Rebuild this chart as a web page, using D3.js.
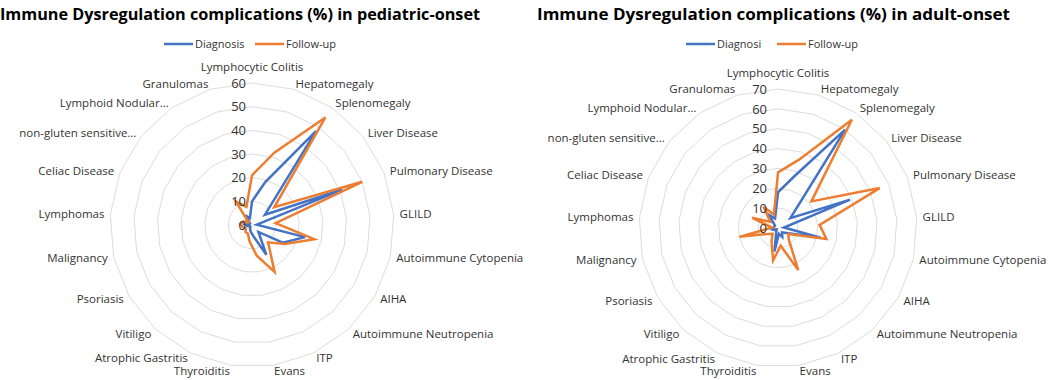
<!DOCTYPE html>
<html>
<head>
<meta charset="utf-8">
<script src="https://cdn.jsdelivr.net/npm/d3@7"></script>
<style>
  body { margin: 0; background: #fff; }
  svg { font-family: "Open Sans", sans-serif; }
</style>
</head>
<body>
<svg width="1053" height="380"></svg>
<script>
// categories clockwise from the top
const categories = ["Lymphocytic Colitis", "Hepatomegaly", "Splenomegaly", "Liver Disease",
  "Pulmonary Disease", "GLILD", "Autoimmune Cytopenia", "AIHA", "Autoimmune Neutropenia",
  "ITP", "Evans", "Thyroiditis", "Atrophic Gastritis", "Vitiligo", "Psoriasis", "Malignancy",
  "Lymphomas", "Celiac Disease", "non-gluten sensitive\u2026", "Lymphoid Nodular\u2026", "Granulomas"];

const pedDiagnosis = [10, 19, 48, 7, 41, 2, 23, 15, 4, 14, 5, 3, 2, 1, 1, 2, 3, 1, 1, 5, 3];
const pedFollowUp = [21, 32, 55, 12, 50, 10, 27, 16, 10, 22, 13, 7, 4, 4, 3, 4, 5, 4, 2, 12, 8];
const adultDiagnosis = [18, 27, 60, 8, 39, 3, 22, 5, 3, 5, 3, 12, 2, 1, 2, 3, 2, 2, 2, 8, 5];
const adultFollowUp = [28, 36, 66, 21.5, 55, 21, 25, 6, 8, 23.5, 9, 16.5, 7.5, 4, 6, 20, 3, 14, 5, 13, 7];

const pedTicks = [0, 10, 20, 30, 40, 50, 60];
const adultTicks = [0, 10, 20, 30, 40, 50, 60, 70];

const blue = "#4472C4", orange = "#ED7D31";
const svg = d3.select("svg");

function radar(o) {
  const g = svg.append("g");
  const n = categories.length;
  const maxV = o.ticks[o.ticks.length - 1];
  const r = d3.scaleLinear().domain([0, maxV]).range([0, o.rMax]);
  const ang = i => i * 2 * Math.PI / n;

  // title
  g.append("text").attr("x", o.titleX).attr("y", 20)
    .attr("font-size", 16.5).attr("font-weight", "bold").attr("fill", "#000")
    .attr("textLength", o.titleW).attr("lengthAdjust", "spacingAndGlyphs")
    .text(o.title);

  // legend
  const lg = g.append("g").attr("transform", "translate(" + o.legendX + ",44)");
  [[o.names[0], blue], [o.names[1], orange]].forEach(function (d, k) {
    const x0 = k * o.legendStep;
    lg.append("line").attr("x1", x0).attr("x2", x0 + 29).attr("y1", 0).attr("y2", 0)
      .attr("stroke", d[1]).attr("stroke-width", 2.5);
    lg.append("text").attr("x", x0 + 31).attr("y", 0).attr("dy", "0.35em")
      .attr("font-size", 11).attr("fill", "#333").text(d[0]);
  });

  const pg = g.append("g").attr("transform", "translate(" + o.cx + "," + o.cy + ")");

  // grid polygons
  const ring = d3.lineRadial().angle((d, i) => ang(i)).radius(d => r(d)).curve(d3.curveLinearClosed);
  pg.selectAll("path.grid").data(o.ticks.filter(t => t > 0)).enter().append("path")
    .attr("class", "grid")
    .attr("d", t => ring(categories.map(() => t)))
    .attr("fill", "none").attr("stroke", "#dcdcdc").attr("stroke-width", 1);

  // category labels
  const lr = o.rMax + 6;
  pg.selectAll("text.cat").data(categories).enter().append("text")
    .attr("class", "cat")
    .attr("x", (d, i) => lr * Math.sin(ang(i)))
    .attr("y", (d, i) => -lr * Math.cos(ang(i)) - (i === 0 ? 10 : 0))
    .attr("dy", "0.35em")
    .attr("text-anchor", (d, i) => {
      const s = Math.sin(ang(i));
      return s > 0.05 ? "start" : s < -0.05 ? "end" : "middle";
    })
    .attr("font-size", 11.5).attr("fill", "#333")
    .text(d => d);

  // series
  const line = d3.lineRadial().angle((d, i) => ang(i)).radius(d => r(d)).curve(d3.curveLinearClosed);
  [[o.series[0], blue], [o.series[1], orange]].forEach(function (s) {
    pg.append("path").attr("d", line(s[0])).attr("fill", "none")
      .attr("stroke", s[1]).attr("stroke-width", 2.5).attr("stroke-linejoin", "miter");
  });

  // value axis
  const y = d3.scaleLinear().domain([0, maxV]).range([o.cy, o.cy - o.rMax]);
  const ax = g.append("g").attr("transform", "translate(" + (o.cx - o.axisOff) + ",0)")
    .call(d3.axisLeft(y).tickValues(o.ticks).tickSize(0).tickPadding(0));
  ax.select(".domain").remove();
  ax.selectAll("text").attr("font-size", 13).attr("fill", "#333")
    .attr("font-family", "Open Sans, sans-serif");
}

radar({
  title: "Immune Dysregulation complications (%) in pediatric-onset",
  titleX: 0, titleW: 480,
  names: ["Diagnosis", "Follow-up"], legendX: 164, legendStep: 91,
  cx: 252, cy: 225, rMax: 142, ticks: pedTicks,
  series: [pedDiagnosis, pedFollowUp], axisOff: 6
});

radar({
  title: "Immune Dysregulation complications (%) in adult-onset",
  titleX: 537, titleW: 473,
  names: ["Diagnosi", "Follow-up"], legendX: 686, legendStep: 91,
  cx: 778, cy: 228, rMax: 139, ticks: adultTicks,
  series: [adultDiagnosis, adultFollowUp], axisOff: 11
});
</script>
</body>
</html>
